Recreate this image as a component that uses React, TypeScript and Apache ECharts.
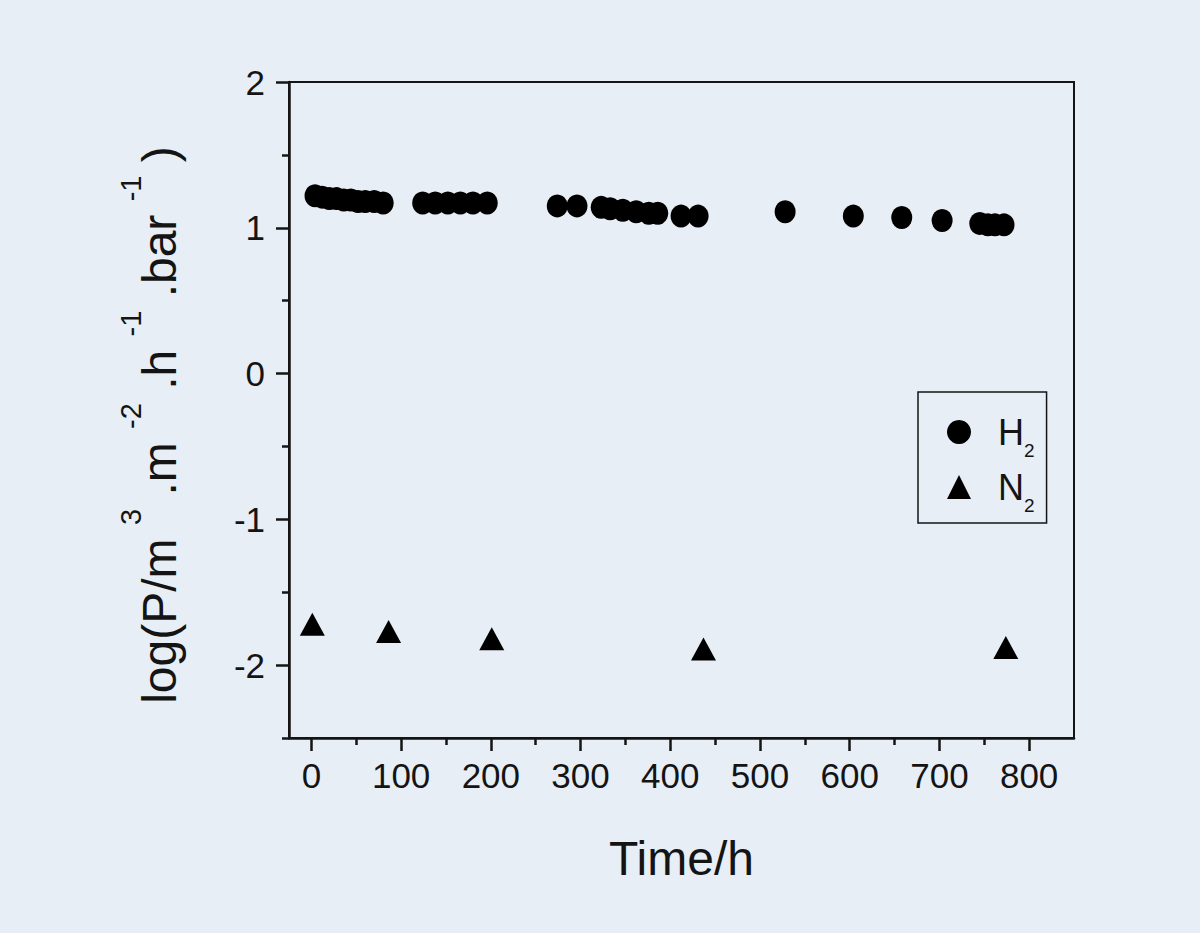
import React, { useEffect, useRef } from "react";
import * as echarts from "echarts";

// H2 permeance, log scale: [time (h), log P]
const h2Time = [4, 12, 20, 28, 36, 44, 52, 60, 70, 80, 124, 138, 152, 166, 180, 196, 274, 296, 323, 333, 347, 362, 376, 386, 412, 431, 528, 604, 658, 703, 745, 754, 762, 772];
const h2Log = [1.22, 1.21, 1.2, 1.2, 1.19, 1.19, 1.18, 1.18, 1.18, 1.17, 1.17, 1.17, 1.17, 1.17, 1.17, 1.17, 1.15, 1.15, 1.14, 1.13, 1.12, 1.11, 1.1, 1.1, 1.08, 1.08, 1.11, 1.08, 1.07, 1.05, 1.03, 1.02, 1.02, 1.02];
// N2 permeance
const n2Time = [1, 86, 201, 437, 774];
const n2Log = [-1.72, -1.77, -1.82, -1.89, -1.88];

const xMajor = [0, 100, 200, 300, 400, 500, 600, 700, 800];
const xMinor = [50, 150, 250, 350, 450, 550, 650, 750];
const yMajor = [-2, -1, 0, 1, 2];
const yMinor = [-2.5, -1.5, -0.5, 0.5, 1.5];
const xRange = [-25, 850];
const yRange = [-2.5, 2];

const seriesNames = ["H2", "N2"];

export default function App() {
  const ref = useRef<HTMLDivElement>(null);
  useEffect(() => {
    if (!ref.current) return;
    const chart = echarts.init(ref.current, null, { renderer: "svg" });
    const ink = "#141414";
    const font = "'Liberation Sans', Arial, sans-serif";
    const gridRect = { left: 289, top: 82, width: 785, height: 656 };
    chart.setOption({
      animation: false,
      backgroundColor: "#e8eef5",
      textStyle: { fontFamily: font },
      grid: [
        { ...gridRect, show: true, borderColor: ink, borderWidth: 2, backgroundColor: "transparent" },
        { ...gridRect, show: false },
      ],
      legend: {
        orient: "vertical",
        left: 918,
        top: 392,
        padding: [22, 12, 8, 29],
        itemGap: 9,
        itemWidth: 24,
        itemHeight: 24,
        borderColor: ink,
        borderWidth: 1.5,
        data: [
          { name: seriesNames[0], icon: "circle" },
          { name: seriesNames[1], icon: "triangle" },
        ],
        formatter: (name: string) => `{g|}{m|${name[0]}}{s|${name.slice(1)}}`,
        textStyle: {
          fontFamily: font,
          rich: {
            g: { width: 22 },
            m: { fontSize: 36, lineHeight: 56, color: ink, fontFamily: font },
            s: { fontSize: 19, lineHeight: 8, verticalAlign: "bottom", color: ink, fontFamily: font },
          },
        },
      },
      xAxis: [
        {
          type: "value",
          gridIndex: 0,
          min: xRange[0],
          max: xRange[1],
          name: "Time/h",
          nameLocation: "middle",
          nameGap: 96,
          nameTextStyle: { fontSize: 48, color: ink, fontFamily: font, lineHeight: 48 },
          axisLine: { show: true, onZero: false, lineStyle: { color: ink, width: 2.5 } },
          axisTick: { show: true, inside: false, length: 13, customValues: xMajor, lineStyle: { color: ink, width: 2.5 } },
          axisLabel: { show: true, customValues: xMajor, fontSize: 35, color: ink, margin: 20, fontFamily: font },
          splitLine: { show: false },
        },
        {
          type: "value",
          gridIndex: 1,
          min: xRange[0],
          max: xRange[1],
          axisLine: { show: false, onZero: false },
          axisTick: { show: true, inside: false, length: 7, customValues: xMinor, lineStyle: { color: ink, width: 2.5 } },
          axisLabel: { show: false },
          splitLine: { show: false },
        },
      ],
      yAxis: [
        {
          type: "value",
          gridIndex: 0,
          min: yRange[0],
          max: yRange[1],
          name: "{b|log(P/m }{s|3}{b| .m }{s|-2}{b| .h }{s|-1}{b| .bar }{s|-1}{b| )}{e|}",
          nameLocation: "middle",
          nameGap: 87,
          nameRotate: 90,
          nameTextStyle: {
            color: ink,
            fontFamily: font,
            rich: {
              b: { fontSize: 48, lineHeight: 86, color: ink, fontFamily: font },
              s: { fontSize: 29, lineHeight: 24, verticalAlign: "top", color: ink, fontFamily: font },
              e: { width: 30 },
            },
          },
          axisLine: { show: true, onZero: false, lineStyle: { color: ink, width: 2.5 } },
          axisTick: { show: true, inside: false, length: 13, customValues: yMajor, lineStyle: { color: ink, width: 2.5 } },
          axisLabel: { show: true, customValues: yMajor, fontSize: 35, color: ink, margin: 24, fontFamily: font },
          splitLine: { show: false },
        },
        {
          type: "value",
          gridIndex: 1,
          min: yRange[0],
          max: yRange[1],
          axisLine: { show: false, onZero: false },
          axisTick: { show: true, inside: false, length: 7, customValues: yMinor, lineStyle: { color: ink, width: 2.5 } },
          axisLabel: { show: false },
          splitLine: { show: false },
        },
      ],
      series: [
        {
          name: seriesNames[0],
          type: "scatter",
          xAxisIndex: 0,
          yAxisIndex: 0,
          symbol: "circle",
          symbolSize: [21, 23],
          itemStyle: { color: "#000", opacity: 1 },
          data: h2Time.map((t, i) => [t, h2Log[i]]),
          z: 5,
        },
        {
          name: seriesNames[1],
          type: "scatter",
          xAxisIndex: 0,
          yAxisIndex: 0,
          symbol: "triangle",
          symbolSize: [25, 23],
          itemStyle: { color: "#000", opacity: 1 },
          data: n2Time.map((t, i) => [t, n2Log[i]]),
          z: 5,
        },
      ],
    });
    return () => chart.dispose();
  }, []);
  return (
    <div
      ref={ref}
      style={{ position: "fixed", left: 0, top: 0, width: 1200, height: 933 }}
    />
  );
}
